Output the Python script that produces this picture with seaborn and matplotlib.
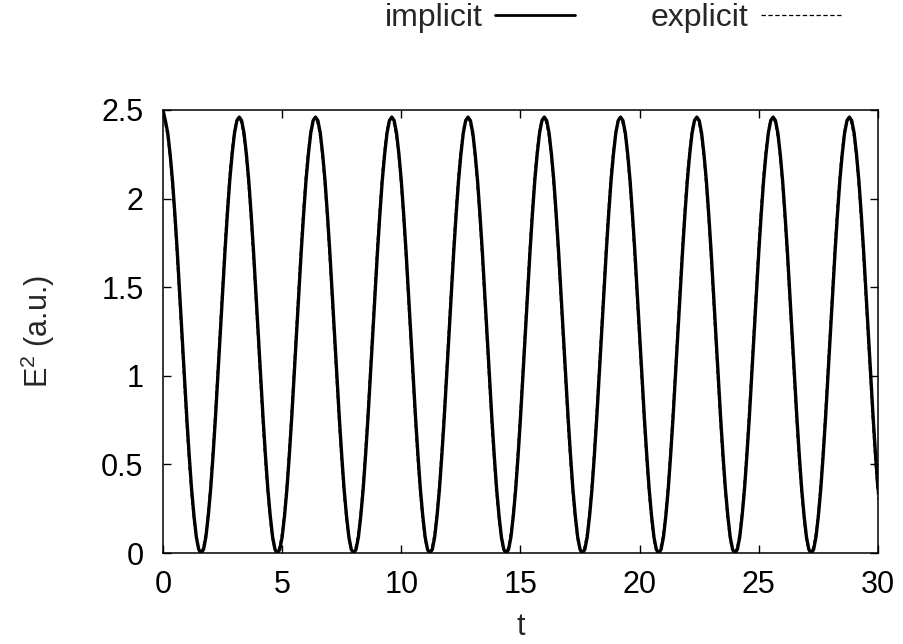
import numpy as np
import pandas as pd
import seaborn as sns
import matplotlib
matplotlib.use("Agg")
import matplotlib.pyplot as plt
from matplotlib.lines import Line2D

# Sampling times of the field energy (a.u.), step 0.1
t = np.linspace(0.0, 30.0, 301)

# E^2 from the implicit scheme, one row per oscillation period
e2_implicit = [
    2.50, 2.44, 2.37, 2.25, 2.10, 1.91, 1.70, 1.47, 1.23, 0.99, 0.76, 0.55, 0.36, 0.21, 0.09, 0.02,
    0.00, 0.02, 0.09, 0.21, 0.36, 0.55, 0.76, 0.99, 1.23, 1.47, 1.70, 1.91, 2.10, 2.25, 2.37, 2.44,
    2.46, 2.44, 2.37, 2.25, 2.10, 1.91, 1.70, 1.47, 1.23, 0.99, 0.76, 0.55, 0.36, 0.21, 0.09, 0.02,
    0.00, 0.02, 0.09, 0.21, 0.36, 0.55, 0.76, 0.99, 1.23, 1.47, 1.70, 1.91, 2.10, 2.25, 2.37, 2.44,
    2.46, 2.44, 2.37, 2.25, 2.10, 1.91, 1.70, 1.47, 1.23, 0.99, 0.76, 0.55, 0.36, 0.21, 0.09, 0.02,
    0.00, 0.02, 0.09, 0.21, 0.36, 0.55, 0.76, 0.99, 1.23, 1.47, 1.70, 1.91, 2.10, 2.25, 2.37, 2.44,
    2.46, 2.44, 2.37, 2.25, 2.10, 1.91, 1.70, 1.47, 1.23, 0.99, 0.76, 0.55, 0.36, 0.21, 0.09, 0.02,
    0.00, 0.02, 0.09, 0.21, 0.36, 0.55, 0.76, 0.99, 1.23, 1.47, 1.70, 1.91, 2.10, 2.25, 2.37, 2.44,
    2.46, 2.44, 2.37, 2.25, 2.10, 1.91, 1.70, 1.47, 1.23, 0.99, 0.76, 0.55, 0.36, 0.21, 0.09, 0.02,
    0.00, 0.02, 0.09, 0.21, 0.36, 0.55, 0.76, 0.99, 1.23, 1.47, 1.70, 1.91, 2.10, 2.25, 2.37, 2.44,
    2.46, 2.44, 2.37, 2.25, 2.10, 1.91, 1.70, 1.47, 1.23, 0.99, 0.76, 0.55, 0.36, 0.21, 0.09, 0.02,
    0.00, 0.02, 0.09, 0.21, 0.36, 0.55, 0.76, 0.99, 1.23, 1.47, 1.70, 1.91, 2.10, 2.25, 2.37, 2.44,
    2.46, 2.44, 2.37, 2.25, 2.10, 1.91, 1.70, 1.47, 1.23, 0.99, 0.76, 0.55, 0.36, 0.21, 0.09, 0.02,
    0.00, 0.02, 0.09, 0.21, 0.36, 0.55, 0.76, 0.99, 1.23, 1.47, 1.70, 1.91, 2.10, 2.25, 2.37, 2.44,
    2.46, 2.44, 2.37, 2.25, 2.10, 1.91, 1.70, 1.47, 1.23, 0.99, 0.76, 0.55, 0.36, 0.21, 0.09, 0.02,
    0.00, 0.02, 0.09, 0.21, 0.36, 0.55, 0.76, 0.99, 1.23, 1.47, 1.70, 1.91, 2.10, 2.25, 2.37, 2.44,
    2.46, 2.44, 2.37, 2.25, 2.10, 1.91, 1.70, 1.47, 1.23, 0.99, 0.76, 0.55, 0.36, 0.21, 0.09, 0.02,
    0.00, 0.02, 0.09, 0.21, 0.36, 0.55, 0.76, 0.99, 1.23, 1.47, 1.70, 1.91, 2.10, 2.25, 2.37, 2.44,
    2.46, 2.44, 2.37, 2.25, 2.10, 1.91, 1.70, 1.47, 1.23, 0.99, 0.76, 0.55, 0.36,
]

# E^2 from the explicit scheme (runs slightly ahead in phase)
e2_explicit = [
    2.50, 2.41, 2.33, 2.20, 2.03, 1.83, 1.61, 1.37, 1.13, 0.90, 0.67, 0.47, 0.30, 0.16, 0.06, 0.01,
    0.00, 0.05, 0.13, 0.26, 0.43, 0.63, 0.85, 1.09, 1.33, 1.56, 1.79, 1.99, 2.17, 2.30, 2.40, 2.45,
    2.46, 2.41, 2.33, 2.20, 2.03, 1.83, 1.61, 1.37, 1.13, 0.90, 0.67, 0.47, 0.30, 0.16, 0.06, 0.01,
    0.00, 0.05, 0.13, 0.26, 0.43, 0.63, 0.85, 1.09, 1.33, 1.56, 1.79, 1.99, 2.17, 2.30, 2.40, 2.45,
    2.46, 2.41, 2.33, 2.20, 2.03, 1.83, 1.61, 1.37, 1.13, 0.90, 0.67, 0.47, 0.30, 0.16, 0.06, 0.01,
    0.00, 0.05, 0.13, 0.26, 0.43, 0.63, 0.85, 1.09, 1.33, 1.56, 1.79, 1.99, 2.17, 2.30, 2.40, 2.45,
    2.46, 2.41, 2.33, 2.20, 2.03, 1.83, 1.61, 1.37, 1.13, 0.90, 0.67, 0.47, 0.30, 0.16, 0.06, 0.01,
    0.00, 0.05, 0.13, 0.26, 0.43, 0.63, 0.85, 1.09, 1.33, 1.56, 1.79, 1.99, 2.17, 2.30, 2.40, 2.45,
    2.46, 2.41, 2.33, 2.20, 2.03, 1.83, 1.61, 1.37, 1.13, 0.90, 0.67, 0.47, 0.30, 0.16, 0.06, 0.01,
    0.00, 0.05, 0.13, 0.26, 0.43, 0.63, 0.85, 1.09, 1.33, 1.56, 1.79, 1.99, 2.17, 2.30, 2.40, 2.45,
    2.46, 2.41, 2.33, 2.20, 2.03, 1.83, 1.61, 1.37, 1.13, 0.90, 0.67, 0.47, 0.30, 0.16, 0.06, 0.01,
    0.00, 0.05, 0.13, 0.26, 0.43, 0.63, 0.85, 1.09, 1.33, 1.56, 1.79, 1.99, 2.17, 2.30, 2.40, 2.45,
    2.46, 2.41, 2.33, 2.20, 2.03, 1.83, 1.61, 1.37, 1.13, 0.90, 0.67, 0.47, 0.30, 0.16, 0.06, 0.01,
    0.00, 0.05, 0.13, 0.26, 0.43, 0.63, 0.85, 1.09, 1.33, 1.56, 1.79, 1.99, 2.17, 2.30, 2.40, 2.45,
    2.46, 2.41, 2.33, 2.20, 2.03, 1.83, 1.61, 1.37, 1.13, 0.90, 0.67, 0.47, 0.30, 0.16, 0.06, 0.01,
    0.00, 0.05, 0.13, 0.26, 0.43, 0.63, 0.85, 1.09, 1.33, 1.56, 1.79, 1.99, 2.17, 2.30, 2.40, 2.45,
    2.46, 2.41, 2.33, 2.20, 2.03, 1.83, 1.61, 1.37, 1.13, 0.90, 0.67, 0.47, 0.30, 0.16, 0.06, 0.01,
    0.00, 0.05, 0.13, 0.26, 0.43, 0.63, 0.85, 1.09, 1.33, 1.56, 1.79, 1.99, 2.17, 2.30, 2.40, 2.45,
    2.46, 2.41, 2.33, 2.20, 2.03, 1.83, 1.61, 1.37, 1.13, 0.90, 0.67, 0.47, 0.30,
]

x_ticks = [0, 5, 10, 15, 20, 25, 30]
y_ticks = [0, 0.5, 1, 1.5, 2, 2.5]
y_tick_labels = ["0", "0.5", "1", "1.5", "2", "2.5"]

sns.set_style("ticks")
plt.rcParams["font.family"] = ["Liberation Sans", "DejaVu Sans"]
plt.rcParams["mathtext.fontset"] = "custom"
plt.rcParams["mathtext.rm"] = "Liberation Sans"

df = pd.DataFrame({"t": t, "implicit": e2_implicit, "explicit": e2_explicit})

fig = plt.figure(figsize=(9.04, 6.44), dpi=100)
ax = fig.add_axes([0.1803, 0.1413, 0.7909, 0.6879])

sns.lineplot(data=df, x="t", y="implicit", ax=ax, color="black", lw=2.4)
sns.lineplot(data=df, x="t", y="explicit", ax=ax, color="black", lw=0.9,
             linestyle=(0, (3.5, 2.0)))

ax.set_xlim(0, 30)
ax.set_ylim(0, 2.5)
ax.set_xticks(x_ticks)
ax.set_xticklabels([str(v) for v in x_ticks])
ax.set_yticks(y_ticks)
ax.set_yticklabels(y_tick_labels)

for side in ["top", "right", "left", "bottom"]:
    ax.spines[side].set_visible(True)
    ax.spines[side].set_linewidth(1.1)
    ax.spines[side].set_color("black")

ax.tick_params(axis="both", which="major", direction="in", length=6, width=1.0,
               top=True, right=True, labelsize=22, colors="black")
ax.tick_params(axis="x", pad=12)
ax.tick_params(axis="y", pad=14)

ax.set_xlabel("t", fontsize=22, labelpad=9)
ax.set_ylabel(r"E$^2$ (a.u.)", fontsize=22, labelpad=32)

handles = [
    Line2D([], [], color="black", lw=2.0),
    Line2D([], [], color="black", lw=0.9, linestyle=(0, (3.5, 2.0))),
]
fig.legend(handles, ["implicit", "explicit"], ncol=2, frameon=False,
           markerfirst=False, fontsize=23, handlelength=2.5,
           handletextpad=0.4, columnspacing=2.35,
           loc="center", bbox_to_anchor=(0.6776, 0.972))

fig.savefig("out.png", dpi=100)
